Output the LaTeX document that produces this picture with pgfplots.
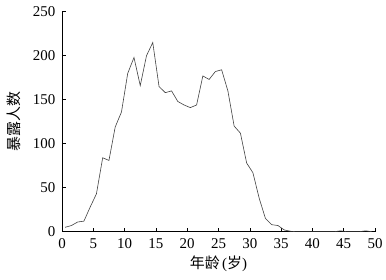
\documentclass[border=0pt]{standalone}
\usepackage{fontspec}
\setmainfont{Liberation Serif}
\newfontfamily\cjk{Noto Sans CJK SC}
\usepackage{pgfplots}
\pgfplotsset{compat=1.18}
\begin{document}
\begin{tikzpicture}
\begin{axis}[
  scale only axis,
  width=313bp, height=220bp,
  xmin=0, xmax=50, ymin=0, ymax=250,
  axis lines*=left,
  axis line style={-, line width=0.7pt},
  tick align=inside,
  major tick length=4bp,
  tick style={line width=0.6pt, black},
  xtick={0,5,...,50},
  ytick={0,50,...,250},
  /pgf/number format/assume math mode=true,
  ticklabel style={font=\fontsize{15}{16}\selectfont, inner sep=0pt},
  xticklabel style={yshift=-6.5bp},
  yticklabel style={xshift=-6.5bp},
  xlabel={\fontsize{15}{16}\selectfont{\cjk 年龄}\,({\cjk 岁})},
  ylabel={\cjk\fontsize{15}{16}\selectfont 暴露人数},
  every axis x label/.style={at={([yshift=-32bp]axis description cs:0.5,0)}, anchor=center},
  every axis y label/.style={at={([xshift=-48bp]axis description cs:0,0.5)}, anchor=center, rotate=90},
  clip=false,
]
\addplot[color=black!75, line width=0.6pt] coordinates {
(0.5,5) (1.5,7) (2.5,11) (3.5,12) (4.5,28) (5.5,43) (6.5,84) (7.5,81)
(8.5,119) (9.5,136) (10.5,180) (11.5,198) (12.5,166) (13.5,200) (14.5,215)
(15.5,165) (16.5,158) (17.5,160) (18.5,148) (19.5,144) (20.5,141) (21.5,144)
(22.5,177) (23.5,173) (24.5,182) (25.5,184) (26.5,160) (27.5,120) (28.5,112)
(29.5,78) (30.5,67) (31.5,38) (32.5,15) (33.5,8) (34.5,7) (35.5,2) (36.5,0.5)
(37.5,0) (38.5,0) (39.5,0) (40.5,0) (41.5,0) (42.5,0) (43.5,0) (44.5,1)
(45.5,0) (46.5,0) (47.5,0) (48.5,1) (49.5,0)
};
\end{axis}
\pgfresetboundingbox
\path (current axis.south west) ++(-62bp,-48.3bp);
\path (current axis.north east) ++(11bp,11.7bp);
\end{tikzpicture}
\end{document}
